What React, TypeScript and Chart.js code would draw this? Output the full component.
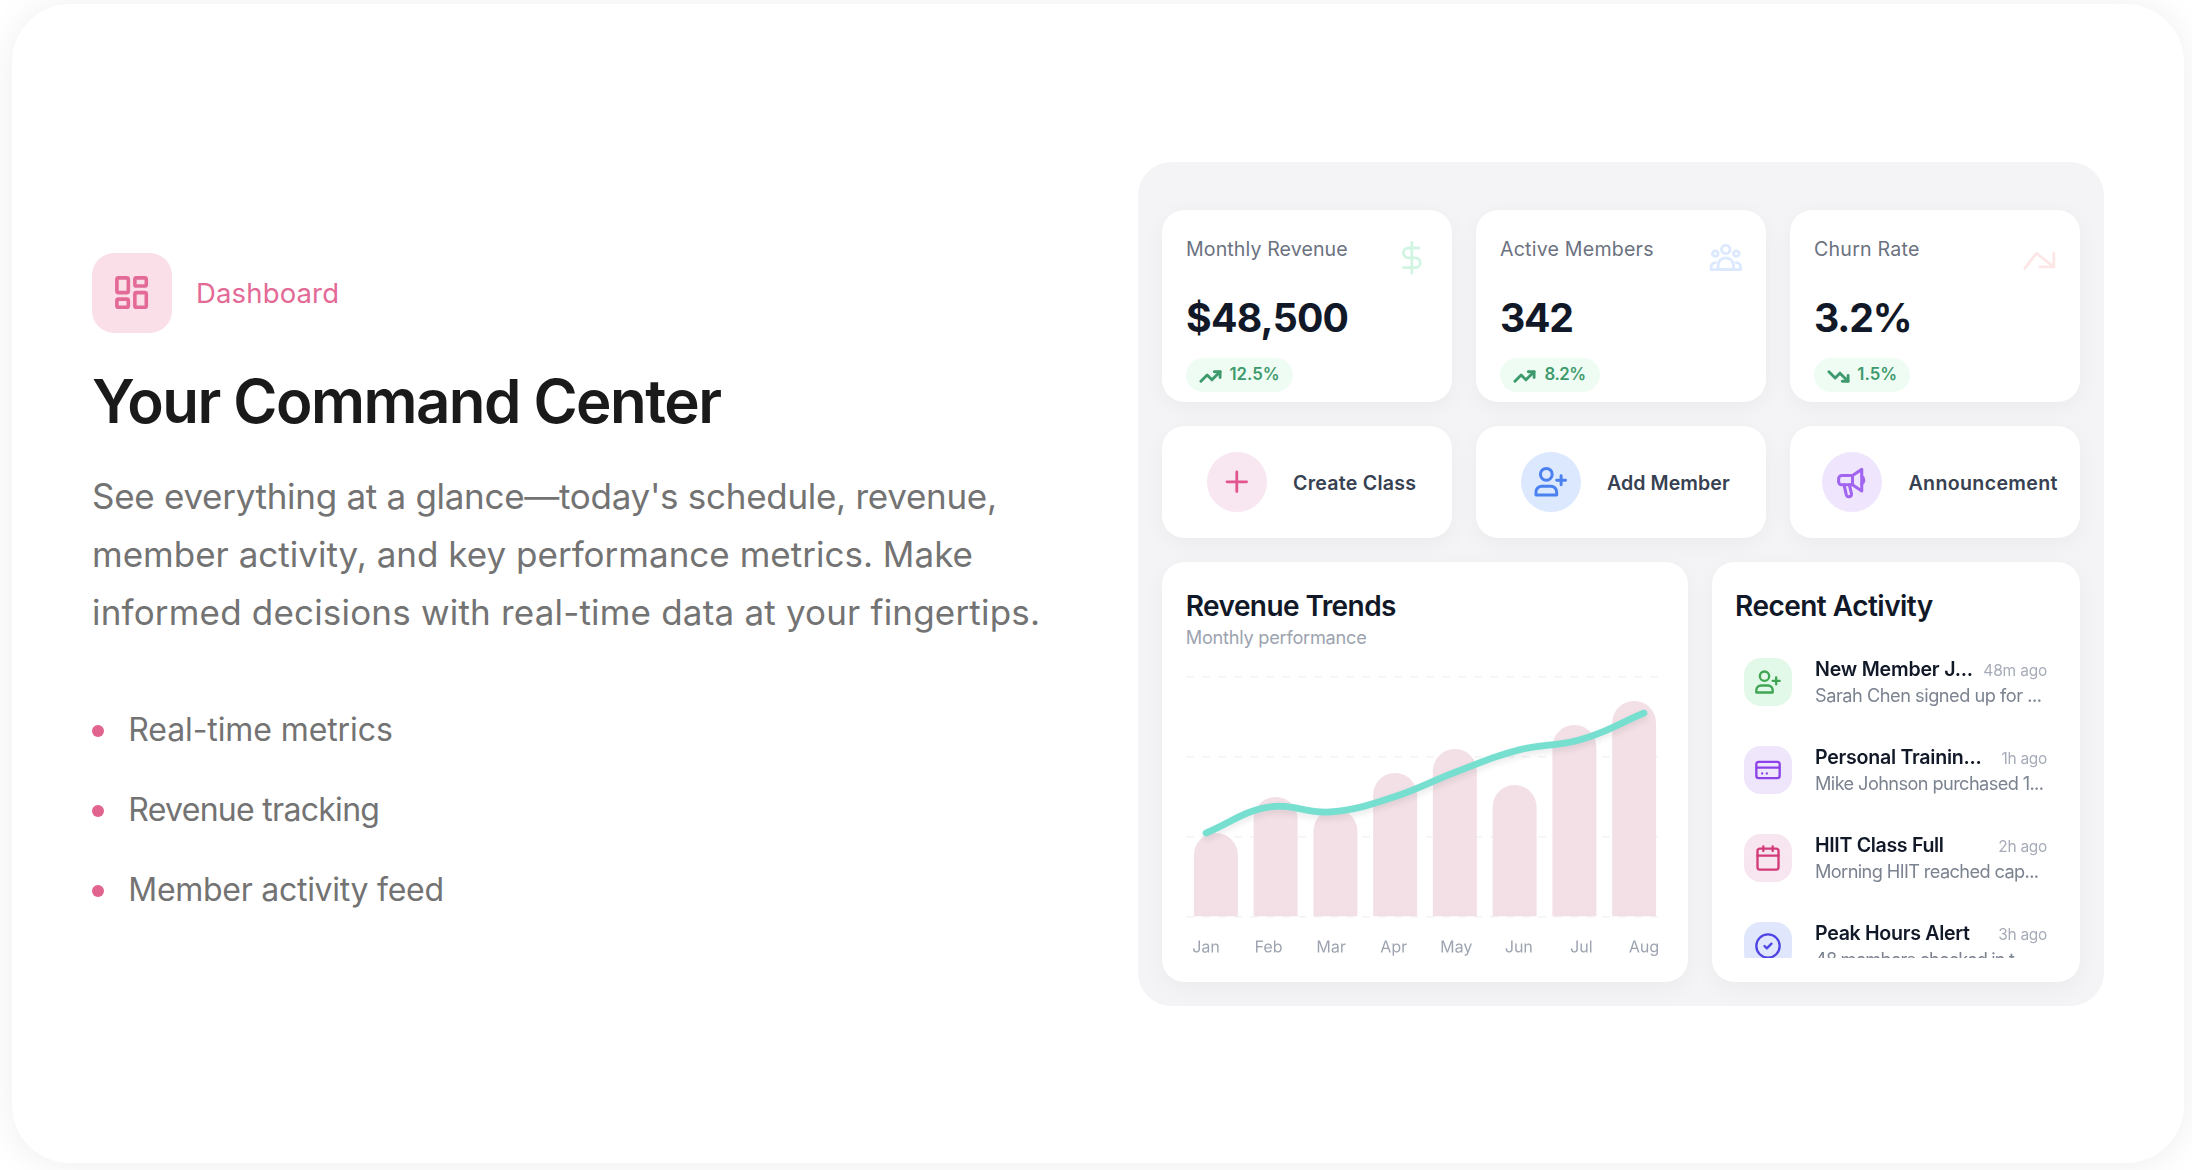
import React, { useEffect, useRef } from "react";
import { Chart, registerables } from "chart.js";

Chart.register(...registerables);

const months = ["Jan", "Feb", "Mar", "Apr", "May", "Jun", "Jul", "Aug"];
const barValues = [35, 50, 45, 60, 70, 55, 80, 90];
const trendValues = [35, 45.8, 43.8, 50, 60.5, 69.6, 74, 85];
const gridTicks = [0, 100 / 3, 200 / 3, 100];

const FONT = "Inter, 'Noto Sans', sans-serif";

const measureCtx = document.createElement("canvas").getContext("2d")!;

function T(p: { x: number; b: number; w?: number; s: number; wt?: number; c: string; t: string; right?: boolean }) {
  const wt = p.wt ?? 400;
  let ls = 0;
  if (p.w) {
    measureCtx.font = `${wt} ${p.s}px Inter`;
    ls = (p.w - measureCtx.measureText(p.t).width) / Math.max(1, p.t.length - 1);
  }
  const left = p.right && p.w ? p.x - p.w : p.x - 1;
  return (
    <div
      style={{
        position: "absolute",
        left,
        top: p.b - 0.969 * p.s,
        fontFamily: FONT,
        fontSize: p.s,
        fontWeight: wt,
        lineHeight: "1.21",
        color: p.c,
        letterSpacing: ls,
        whiteSpace: "pre",
      }}
    >
      {p.t}
    </div>
  );
}

function Box(p: { x: number; y: number; w: number; h: number; r: number; bg: string; shadow?: string }) {
  return (
    <div
      style={{
        position: "absolute",
        left: p.x,
        top: p.y,
        width: p.w,
        height: p.h,
        borderRadius: p.r,
        background: p.bg,
        boxShadow: p.shadow,
      }}
    />
  );
}

const ICONS: Record<string, React.ReactNode> = {
  dashboard: (
    <>
      <rect x="3" y="3" width="7" height="9" rx="1" />
      <rect x="14" y="3" width="7" height="5" rx="1" />
      <rect x="14" y="12" width="7" height="9" rx="1" />
      <rect x="3" y="16" width="7" height="5" rx="1" />
    </>
  ),
  dollar: (
    <>
      <line x1="12" y1="1" x2="12" y2="23" />
      <path d="M17 5H9.5a3.5 3.5 0 0 0 0 7h5a3.5 3.5 0 0 1 0 7H6" />
    </>
  ),
  group: (
    <>
      <circle cx="12" cy="6" r="3" />
      <circle cx="4.5" cy="9" r="2" />
      <circle cx="19.5" cy="9" r="2" />
      <path d="M6.5 20.5v-3a5.5 5.5 0 0 1 11 0v3z" />
      <path d="M1.5 20.5v-2a3 3 0 0 1 3-3M22.5 20.5v-2a3 3 0 0 0-3-3M1.5 20.5h21" />
    </>
  ),
  churn: (
    <>
      <polyline points="1.3 17.4 9.6 6.6 22 16.4" />
      <polyline points="22 6.6 22 16.4 12 16.4" />
    </>
  ),
  up: (
    <>
      <polyline points="22 7 13.5 15.5 8.5 10.5 2 17" />
      <polyline points="16 7 22 7 22 13" />
    </>
  ),
  down: (
    <>
      <polyline points="22 17 13.5 8.5 8.5 13.5 2 7" />
      <polyline points="16 17 22 17 22 11" />
    </>
  ),
  plus: <path d="M5 12h14M12 5v14" />,
  userPlus: (
    <>
      <path d="M16 21v-2a4 4 0 0 0-4-4H6a4 4 0 0 0-4 4v2z" />
      <circle cx="9" cy="7" r="4" />
      <path d="M19 8v6M22 11h-6" />
    </>
  ),
  megaphone: (
    <>
      <path d="M5 7.5h7l6-4v14l-6-4H5a2 2 0 0 1-2-2v-2a2 2 0 0 1 2-2z" />
      <path d="M18 8a3 3 0 0 1 0 5M12 7.5v6" />
      <path d="M6.5 13.5l1.5 6.5a1.7 1.7 0 0 0 3.3-.8L10 13.5" />
    </>
  ),
  card: (
    <>
      <rect x="2" y="5" width="20" height="14" rx="2" />
      <path d="M2 10h20M7 15h.01M11 15h.01" />
    </>
  ),
  calendar: (
    <>
      <path d="M8 2v4M16 2v4M3 10h18" />
      <rect x="3" y="4" width="18" height="18" rx="2" />
    </>
  ),
  check: (
    <>
      <circle cx="12" cy="12" r="10" />
      <path d="m9 12 2 2 4-4" />
    </>
  ),
};

function Icon(p: { name: string; cx: number; cy: number; size: number; c: string; sw?: number }) {
  return (
    <svg
      viewBox="0 0 24 24"
      width={p.size}
      height={p.size}
      fill="none"
      stroke={p.c}
      strokeWidth={p.sw ?? 2}
      strokeLinecap="round"
      strokeLinejoin="round"
      style={{ position: "absolute", left: p.cx - p.size / 2, top: p.cy - p.size / 2 }}
    >
      {ICONS[p.name]}
    </svg>
  );
}

const CARD_SHADOW = "0 6px 24px rgba(0,0,0,0.04)";

const stats = [
  { x: 1162, label: "Monthly Revenue", lw: 160.7, value: "$48,500", vw: 161.5, pct: "12.5%", pw: 50, pillW: 107, tx: 1230, icon: "dollar", ic: "#d1f5e2", trend: "up" },
  { x: 1476, label: "Active Members", lw: 152.5, value: "342", vw: 72.5, pct: "8.2%", pw: 41.7, pillW: 100, tx: 1545, icon: "group", ic: "#dbe8fe", trend: "up" },
  { x: 1790, label: "Churn Rate", lw: 104.4, value: "3.2%", vw: 97, pct: "1.5%", pw: 40, pillW: 96, tx: 1857.7, icon: "churn", ic: "#fde6e6", trend: "down" },
];

const actions = [
  { x: 1162, label: "Create Class", w: 123, bg: "#f8e6f0", ic: "#e2558f", icon: "plus", cx: 1237, tx: 1294, size: 33.6 },
  { x: 1476, label: "Add Member", w: 122.7, bg: "#dce8fd", ic: "#4a80f0", icon: "userPlus", cx: 1551, tx: 1608, size: 35.5 },
  { x: 1790, label: "Announcement", w: 149, bg: "#efe6fd", ic: "#a265f0", icon: "megaphone", cx: 1852, tx: 1909.5, size: 37 },
];

const activity = [
  { t: "New Member J...", tw: 157, time: "48m ago", mw: 64, d: "Sarah Chen signed up for ...", dw: 226, bg: "#e2f8e8", ic: "#3fa553", icon: "userPlus" },
  { t: "Personal Trainin...", tw: 165.7, time: "1h ago", mw: 45.7, d: "Mike Johnson purchased 1...", dw: 228, bg: "#efe6fc", ic: "#8b43e8", icon: "card" },
  { t: "HIIT Class Full", tw: 128, time: "2h ago", mw: 49, d: "Morning HIIT reached cap...", dw: 223, bg: "#f7e6f0", ic: "#d23a78", icon: "calendar" },
  { t: "Peak Hours Alert", tw: 154, time: "3h ago", mw: 49, d: "48 members checked in t...", dw: 212, bg: "#e0e6fb", ic: "#4f46e5", icon: "check" },
];

const paragraph = [
  { t: "See everything at a glance\u2014today's schedule, revenue,", b: 509, w: 905 },
  { t: "member activity, and key performance metrics. Make", b: 567.4, w: 881 },
  { t: "informed decisions with real-time data at your fingertips.", b: 625, w: 948 },
];

const bullets = [
  { t: "Real-time metrics", b: 742, w: 263.5 },
  { t: "Revenue tracking", b: 822, w: 250.7 },
  { t: "Member activity feed", b: 902, w: 314.7 },
];

function RevenueChart() {
  const ref = useRef<HTMLCanvasElement>(null);
  useEffect(() => {
    const shadow = {
      id: "lineShadow",
      beforeDatasetDraw(chart: any, args: any) {
        if (args.index !== 1) return;
        const c = chart.ctx;
        c.save();
        c.shadowColor = "rgba(0,0,0,0.09)";
        c.shadowBlur = 14;
        c.shadowOffsetY = 7;
      },
      afterDatasetDraw(chart: any, args: any) {
        if (args.index === 1) chart.ctx.restore();
      },
    };
    const chart = new Chart(ref.current!, {
      type: "bar",
      plugins: [shadow],
      data: {
        labels: months,
        datasets: [
          {
            type: "bar",
            data: barValues,
            xAxisID: "x",
            yAxisID: "y",
            backgroundColor: "#f3e0e7",
            borderRadius: { topLeft: 22, topRight: 22, bottomLeft: 0, bottomRight: 0 },
            borderSkipped: false,
            barPercentage: 0.736,
            categoryPercentage: 1,
            grouped: false,
            order: 2,
          },
          {
            type: "line",
            data: trendValues.map((y, i) => ({ x: i, y })),
            xAxisID: "x2",
            yAxisID: "y",
            borderColor: "#76dfcf",
            borderWidth: 6.8,
            borderCapStyle: "round",
            borderJoinStyle: "round",
            pointRadius: 0,
            tension: 0.4,
            clip: false,
            order: 1,
          },
        ],
      } as any,
      options: {
        animation: false,
        responsive: false,
        maintainAspectRatio: false,
        devicePixelRatio: 2,
        layout: { padding: { top: 7, left: 0, right: 0, bottom: 0 } },
        plugins: { legend: { display: false }, tooltip: { enabled: false } },
        scales: {
          x: { type: "category", display: false, offset: true },
          x2: {
            type: "linear",
            position: "bottom",
            offset: false,
            min: -0.32,
            max: 7.32,
            grid: { display: false, drawTicks: false, offset: false },
            border: { display: false },
            afterBuildTicks: (axis: any) => {
              axis.ticks = months.map((_, i) => ({ value: i }));
            },
            afterFit: (axis: any) => {
              axis.height = 53;
              axis.paddingLeft = 0;
              axis.paddingRight = 0;
            },
            ticks: {
              autoSkip: false,
              maxRotation: 0,
              padding: 21,
              color: "#9ca3af",
              font: { family: "Inter", size: 16, weight: "400" },
              callback: (v: any) => months[Number(v)],
            },
          },
          y: {
            min: 0,
            max: 100,
            afterBuildTicks: (axis: any) => {
              axis.ticks = gridTicks.map((value) => ({ value }));
            },
            afterFit: (axis: any) => {
              axis.width = 0;
            },
            grid: { color: "#f3f4f6", lineWidth: 1.6, drawTicks: false },
            border: { display: false, dash: [8, 8] },
            ticks: { display: false },
          },
        },
      } as any,
    });
    return () => chart.destroy();
  }, []);
  return (
    <canvas
      ref={ref}
      width={478}
      height={300}
      style={{ position: "absolute", left: 1186, top: 670, width: 478, height: 300 }}
    />
  );
}

export default function App() {
  return (
    <div style={{ position: "absolute", left: 0, top: 0, width: 2192, height: 1170, overflow: "hidden", background: "#fff" }}>
      <Box x={12} y={4} w={2172} h={1159} r={58} bg="#fff" shadow="0 2px 36px rgba(0,0,0,0.07)" />

      <Box x={92} y={253} w={80} h={80} r={22.4} bg="#fadfe9" />
      <Icon name="dashboard" cx={132} cy={293} size={39.2} c="#e36a96" sw={2.2} />
      <T x={197} b={304} w={143} s={27.5} wt={400} c="#e36a96" t="Dashboard" />
      <T x={93} b={422.7} w={630} s={60} wt={600} c="#1a1a1a" t="Your Command Center" />
      {paragraph.map((l) => (
        <T key={l.t} x={93} b={l.b} w={l.w} s={35} c="#737373" t={l.t} />
      ))}
      {bullets.map((l) => (
        <React.Fragment key={l.t}>
          <Box x={92} y={l.b - 17.5} w={12} h={12} r={6} bg="#e0648d" />
          <T x={129.3} b={l.b} w={l.w + 1} s={32} c="#737373" t={l.t} />
        </React.Fragment>
      ))}

      <Box x={1138} y={162} w={966} h={844} r={33.6} bg="#f4f4f6" />

      {stats.map((s) => (
        <React.Fragment key={s.label}>
          <Box x={s.x} y={210} w={290} h={192} r={22.4} bg="#fff" shadow={CARD_SHADOW} />
          <T x={s.x + 25} b={257.4} w={s.lw + 1} s={19.6} c="#6b7280" t={s.label} />
          <Icon name={s.icon} cx={s.x + 250} cy={s.icon === "churn" ? 260.5 : 258} size={33.6} c={s.ic} />
          <T x={s.x + 25} b={331.7} w={s.vw + 1.5} s={39.2} wt={700} c="#111827" t={s.value} />
          <Box x={s.x + 24} y={358} w={s.pillW} h={34} r={17} bg="#effcf3" />
          <Icon name={s.trend} cx={s.x + 48} cy={376} size={23} c="#3d9a6c" sw={3} />
          <T x={s.tx + 0.5} b={380.7} w={s.pw} s={16.8} wt={600} c="#3d9a6c" t={s.pct} />
        </React.Fragment>
      ))}

      {actions.map((a) => (
        <React.Fragment key={a.label}>
          <Box x={a.x} y={426} w={290} h={112} r={22.4} bg="#fff" shadow={CARD_SHADOW} />
          <Box x={a.cx - 30} y={452} w={60} h={60} r={30} bg={a.bg} />
          <Icon name={a.icon} cx={a.cx} cy={482} size={a.size} c={a.ic} />
          <T x={a.tx} b={490.6} w={a.w} s={19.6} wt={600} c="#374151" t={a.label} />
        </React.Fragment>
      ))}

      <Box x={1162} y={562} w={526} h={420} r={22.4} bg="#fff" shadow={CARD_SHADOW} />
      <T x={1186.8} b={617} w={210.6} s={28} wt={600} c="#111827" t="Revenue Trends" />
      <T x={1186.8} b={643.3} w={181} s={18.2} c="#9ca3af" t="Monthly performance" />
      <RevenueChart />

      <Box x={1712} y={562} w={368} h={420} r={22.4} bg="#fff" shadow={CARD_SHADOW} />
      <T x={1736} b={617} w={198.3} s={28} wt={600} c="#111827" t="Recent Activity" />
      <div style={{ position: "absolute", left: 0, top: 0, width: 2192, height: 958, overflow: "hidden" }}>
        {activity.map((a, i) => {
          const dy = i * 88;
          return (
            <React.Fragment key={a.t}>
              <Box x={1744} y={658 + dy} w={48} h={48} r={16.8} bg={a.bg} />
              <Icon name={a.icon} cx={1768} cy={682 + dy} size={28} c={a.ic} />
              <T x={1816} b={677 + dy} w={a.tw + 1} s={19.6} wt={600} c="#111827" t={a.t} />
              <T x={2047.3} right b={677.2 + dy} w={a.mw} s={15.5} c="#a6acb8" t={a.time} />
              <T x={1816} b={701.2 + dy} w={a.dw + 1} s={18.2} c="#7b8290" t={a.d} />
            </React.Fragment>
          );
        })}
      </div>
    </div>
  );
}
